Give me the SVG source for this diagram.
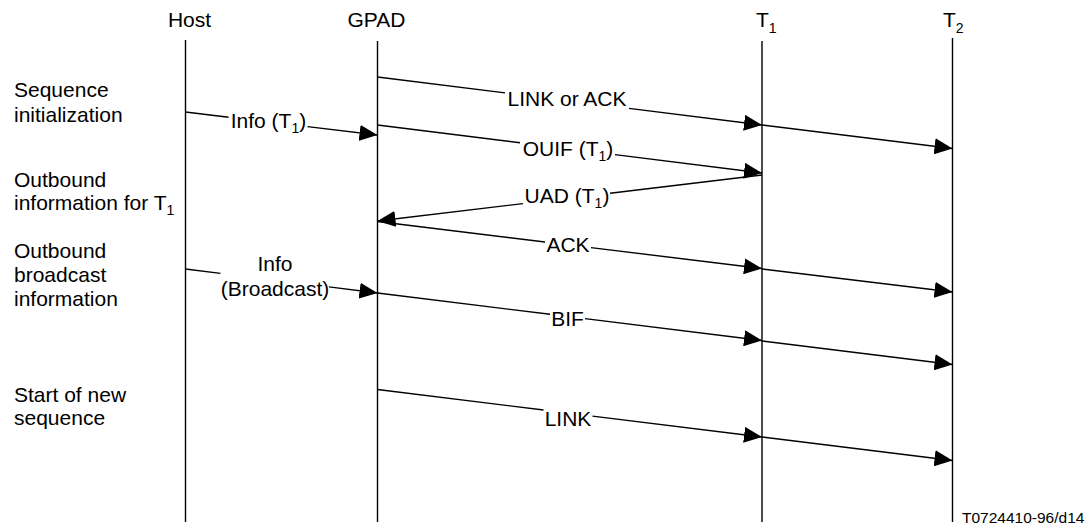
<svg xmlns="http://www.w3.org/2000/svg" width="1092" height="528" viewBox="0 0 1092 528">
<defs>
<marker id="arr" markerUnits="userSpaceOnUse" markerWidth="18" markerHeight="16" refX="18" refY="8" orient="auto">
<path d="M0,0 L18,8 L0,16 z" fill="#000"/>
</marker>
<style>
text{font-family:"Liberation Sans",Arial,sans-serif;font-size:21px;fill:#000}
.mid{text-anchor:middle}
.sub{font-size:14px}
.note{font-size:15.5px}
.life{stroke:#000;stroke-width:1.4;fill:none}
.msg{stroke:#000;stroke-width:1.4;fill:none;marker-end:url(#arr)}
</style>
</defs>
<rect width="1092" height="528" fill="#fff"/>
<g id="host">
<line class="life" x1="185.5" y1="40" x2="185.5" y2="522"/>
<text class="mid" x="189.5" y="27">Host</text>
</g>
<g id="gpad">
<line class="life" x1="377.5" y1="41" x2="377.5" y2="522"/>
<text class="mid" x="376.5" y="27">GPAD</text>
</g>
<g id="t1">
<line class="life" x1="762" y1="41" x2="762" y2="522"/>
<text x="756" y="27">T<tspan class="sub" dy="6">1</tspan></text>
</g>
<g id="t2">
<line class="life" x1="952.5" y1="38" x2="952.5" y2="522"/>
<text x="943" y="27">T<tspan class="sub" dy="6">2</tspan></text>
</g>
<g id="phase-labels">
<text x="14" y="97">Sequence</text>
<text x="14" y="122">initialization</text>
<text x="14" y="187">Outbound</text>
<text x="14" y="210">information for T<tspan class="sub" dy="5">1</tspan></text>
<text x="14" y="258">Outbound</text>
<text x="14" y="282">broadcast</text>
<text x="14" y="306">information</text>
<text x="14" y="402">Start of new</text>
<text x="14" y="425">sequence</text>
</g>
<g id="connectors">
<path class="msg" d="M377.5,77 L505,92.9 M629,108.4 L762,125"/>
<path class="msg" d="M762,125 L952.5,148.5"/>
<path class="msg" d="M185.5,112 L228.5,117.2 M307.5,126.6 L377.5,135"/>
<path class="msg" d="M377.5,125 L520,142.8 M615,154.6 L762,173"/>
<path class="msg" d="M762,175 L610,193.2 M523,203.6 L377.5,221"/>
<path class="msg" d="M377.5,221.5 L545,242 M591,247.6 L762,268.5"/>
<path class="msg" d="M762,269 L952.5,292"/>
<path class="msg" d="M185.5,269 L220.5,273.4 M329,286.9 L377.5,293"/>
<path class="msg" d="M377.5,293 L550,314.3 M585,318.6 L762,340.5"/>
<path class="msg" d="M762,341 L952.5,364.5"/>
<path class="msg" d="M377.5,389.5 L543.5,410 M592.5,416.1 L762,437"/>
<path class="msg" d="M762,437 L952.5,460.5"/>
<text class="mid" x="567" y="106">LINK or ACK</text>
<text class="mid" x="268.5" y="128">Info (T<tspan class="sub" dy="5">1</tspan><tspan dy="-5">)</tspan></text>
<text class="mid" x="568" y="156">OUIF (T<tspan class="sub" dy="5">1</tspan><tspan dy="-5">)</tspan></text>
<text class="mid" x="567" y="203">UAD (T<tspan class="sub" dy="5">1</tspan><tspan dy="-5">)</tspan></text>
<text class="mid" x="568" y="252">ACK</text>
<text class="mid" x="275" y="271">Info</text>
<text class="mid" x="275" y="296">(Broadcast)</text>
<text class="mid" x="567.5" y="326">BIF</text>
<text class="mid" x="568" y="426">LINK</text>
</g>
<text class="note" x="962" y="522.5">T0724410-96/d14</text>
</svg>
